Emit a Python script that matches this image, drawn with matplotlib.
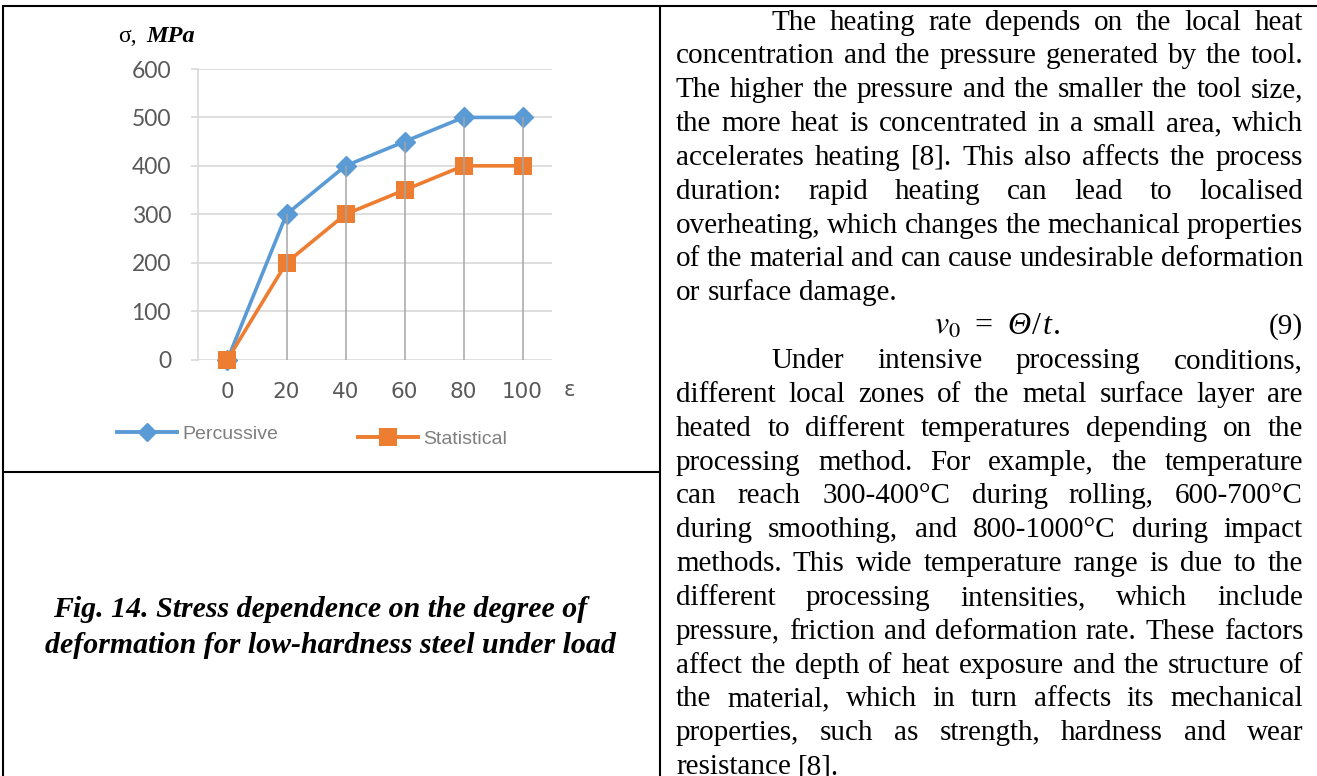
import numpy as np
import matplotlib
matplotlib.use('Agg')
import matplotlib.pyplot as plt
from matplotlib.lines import Line2D
from matplotlib.font_manager import FontProperties

plt.rcParams['mathtext.fontset'] = 'stix'

# page size in pixels
W, H = 1317, 776

# chart data
strain = ['0', '20', '40', '60', '80', '100']
percussive = [0, 300, 400, 450, 500, 500]
statistical = [0, 200, 300, 350, 400, 400]
y_ticks = [0, 100, 200, 300, 400, 500, 600]

caption = ['Fig. 14. Stress dependence on the degree of',
           'deformation for low-hardness steel under load']

# right column text, one entry per printed line
# kind: 'indent' = first line of paragraph, 'just' = justified, 'last' = left aligned
body = [
    ('indent', 'The heating rate depends on the local heat'),
    ('just', 'concentration and the pressure generated by the tool.'),
    ('just', 'The higher the pressure and the smaller the tool size,'),
    ('just', 'the more heat is concentrated in a small area, which'),
    ('just', 'accelerates heating [8]. This also affects the process'),
    ('just', 'duration: rapid heating can lead to localised'),
    ('just', 'overheating, which changes the mechanical properties'),
    ('just', 'of the material and can cause undesirable deformation'),
    ('last', 'or surface damage.'),
    ('eq', ''),
    ('indent', 'Under intensive processing conditions,'),
    ('just', 'different local zones of the metal surface layer are'),
    ('just', 'heated to different temperatures depending on the'),
    ('just', 'processing method. For example, the temperature'),
    ('just', 'can reach 300-400°C during rolling, 600-700°C'),
    ('just', 'during smoothing, and 800-1000°C during impact'),
    ('just', 'methods. This wide temperature range is due to the'),
    ('just', 'different processing intensities, which include'),
    ('just', 'pressure, friction and deformation rate. These factors'),
    ('just', 'affect the depth of heat exposure and the structure of'),
    ('just', 'the material, which in turn affects its mechanical'),
    ('just', 'properties, such as strength, hardness and wear'),
    ('last', 'resistance [8].'),
]

# formula (9) in pieces: text, style
formula = [(r'$v_0$', 'math'), ('=', 'rm'), ('Θ', 'it'), ('/', 'rm'), ('t', 'it'), ('.', 'rm')]


def fx(x):
    return x / W


def fy(y):
    return 1 - y / H


fig = plt.figure(figsize=(W / 100, H / 100), dpi=100)
fig.patch.set_facecolor('white')

# table borders
def hline(x0, x1, y, lw=1.5):
    fig.add_artist(Line2D([fx(x0), fx(x1)], [fy(y), fy(y)], transform=fig.transFigure,
                          color='black', lw=lw, solid_capstyle='butt'))


def vline(x, y0, y1, lw=1.5):
    fig.add_artist(Line2D([fx(x), fx(x)], [fy(y0), fy(y1)], transform=fig.transFigure,
                          color='black', lw=lw, solid_capstyle='butt'))


hline(3, 1317, 5.5)
hline(3, 660, 472)
vline(3.5, 5, 776)
vline(660, 5, 776)

# ---- chart ----
ax = fig.add_axes([fx(198), fy(359.5), (552 - 198) / W, (359.5 - 69) / H])
x = np.arange(len(strain))
ax.plot(x, percussive, color='#5b9bd5', lw=2.6, marker='D', ms=10,
        mec='#5b9bd5', zorder=3, clip_on=False)
ax.plot(x, statistical, color='#ed7d31', lw=2.6, marker='s', ms=13.5,
        mec='#ed7d31', mew=0, zorder=3.1, clip_on=False)
ax.vlines(x, 0, np.maximum(percussive, statistical), color='#a5a5a5', lw=1.1,
          zorder=4, clip_on=False)

ax.set_xlim(-0.5, len(strain) - 0.5)
ax.set_ylim(0, 600)
ax.set_yticks(y_ticks)
ax.yaxis.grid(True, color='#d9d9d9', lw=1.2)
ax.set_axisbelow(True)
for s in ['top', 'right', 'bottom']:
    ax.spines[s].set_visible(False)
ax.spines['left'].set_color('#d9d9d9')
ax.spines['left'].set_linewidth(1.2)
ax.tick_params(axis='y', length=5, width=1.2, color='#d9d9d9', pad=14.4,
               labelcolor='#595959', labelsize=16.5)
for lab in ax.get_yticklabels():
    lab.set_family('Lato')
ax.set_xticks(x)
ax.set_xticklabels(strain, family='DejaVu Sans', fontsize=15.5, color='#595959')
ax.tick_params(axis='x', length=0, pad=16.2)

fig.text(fx(569), fy(390), 'ε', ha='center', va='center', family='DejaVu Sans',
         fontsize=15.5, color='#595959')
fig.text(fx(118), fy(42), 'σ,', family='Liberation Serif', fontsize=17, va='baseline')
fig.text(fx(146), fy(42), 'MPa', family='Liberation Serif', fontsize=17.5,
         weight='bold', style='italic', va='baseline')

leg_prop = {'family': 'Liberation Sans', 'size': 14}
leg1 = fig.legend([Line2D([], [], color='#5b9bd5', lw=2.8, marker='D', ms=9)], ['Percussive'],
                  loc='center left', bbox_to_anchor=(fx(117), fy(434)), frameon=False,
                  borderpad=0, borderaxespad=0, handlelength=3.1, handletextpad=0.25,
                  numpoints=1, labelcolor='#7f7f7f', prop=leg_prop)
leg2 = fig.legend([Line2D([], [], color='#ed7d31', lw=2.8, marker='s', ms=13, mew=0)], ['Statistical'],
                  loc='center left', bbox_to_anchor=(fx(358), fy(439)), frameon=False,
                  borderpad=0, borderaxespad=0, handlelength=3.1, handletextpad=0.25,
                  numpoints=1, labelcolor='#7f7f7f', prop=leg_prop)

# ---- caption ----
cap_x = [320, 330]
cap_y = [617, 653]
for line, cx, cy in zip(caption, cap_x, cap_y):
    fig.text(fx(cx), fy(cy), line, ha='center', va='baseline',
             family='Liberation Serif', weight='bold', style='italic', fontsize=21.5)

# ---- right column text, justified by hand ----
renderer = fig.canvas.get_renderer()
fp = FontProperties(family='Liberation Serif', size=21)
fp_eq = FontProperties(family='Liberation Serif', size=23)
fp_eq_it = FontProperties(family='Liberation Serif', style='italic', size=23)
left, indent, right = 676, 771, 1303


def wwidth(word, prop=fp, math=False):
    w, h, d = renderer.get_text_width_height_descent(word, prop, ismath=math)
    return w


space = wwidth('a a') - wwidth('aa')
for i, (kind, line) in enumerate(body):
    base = 29.5 + 33.85 * i
    if kind == 'eq':
        xpos = 934
        gaps = [14, 14, 2, 2, 1, 0]
        for (piece, style), g in zip(formula, gaps):
            if style == 'math':
                fig.text(fx(xpos), fy(base), piece, fontsize=23, va='baseline')
                xpos += wwidth(piece, fp_eq, math=True) + g
            else:
                prop = fp_eq_it if style == 'it' else fp_eq
                fig.text(fx(xpos), fy(base), piece, fontproperties=prop, va='baseline')
                xpos += wwidth(piece, prop) + g
        fig.text(fx(right), fy(base), '(9)', fontproperties=fp, ha='right', va='baseline')
        continue
    words = line.split()
    widths = [wwidth(w) for w in words]
    x0 = indent if kind == 'indent' else left
    if kind == 'last' or len(words) == 1:
        gap = space
    else:
        gap = (right - x0 - sum(widths)) / (len(words) - 1)
    xpos = x0
    for w, ww in zip(words, widths):
        fig.text(fx(xpos), fy(base), w, fontproperties=fp, ha='left', va='baseline')
        xpos += ww + gap

fig.savefig('out.png', dpi=100, facecolor='white')
